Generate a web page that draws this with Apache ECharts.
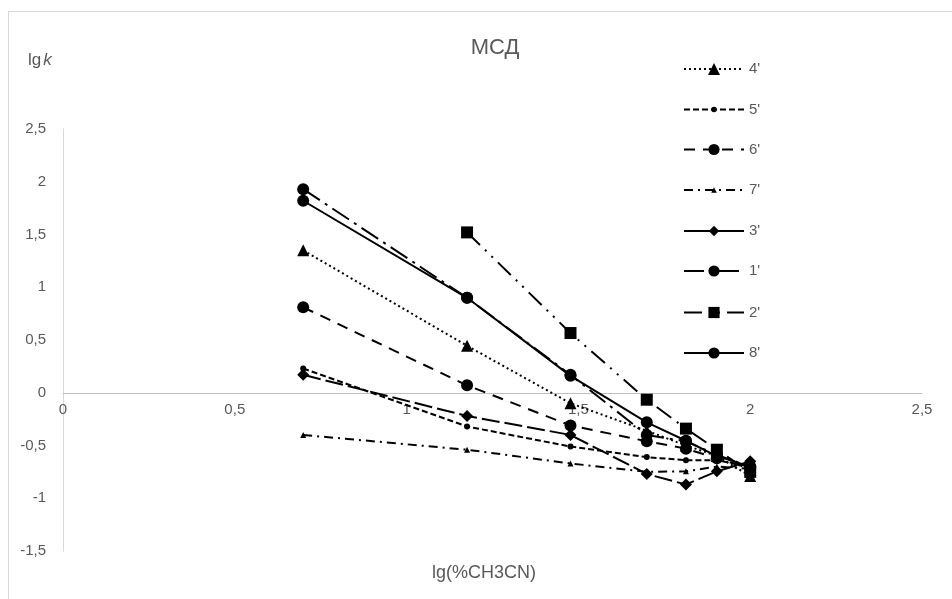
<!DOCTYPE html>
<html>
<head>
<meta charset="utf-8">
<script src="https://cdn.jsdelivr.net/npm/echarts@6/dist/echarts.min.js"></script>
<style>
html,body{margin:0;padding:0;background:#fff;}
#chart{width:952px;height:599px;}
</style>
</head>
<body>
<div id="chart"></div>
<script>
// lg(%CH3CN) values
const xValues = [0.699, 1.176, 1.477, 1.699, 1.813, 1.903, 2.0];
const seriesNames = ["4'", "5'", "6'", "7'", "3'", "1'", "2'", "8'"];
const s4 = [1.35, 0.445, -0.10, -0.36, -0.50, -0.60, -0.79];
const s5 = [0.23, -0.32, -0.51, -0.61, -0.64, -0.64, -0.70];
const s6 = [0.81, 0.07, -0.31, -0.46, -0.53, -0.62, -0.72];
const s7 = [-0.40, -0.54, -0.67, -0.75, -0.745, -0.70, -0.72];
const s3 = [0.17, -0.22, -0.40, -0.77, -0.87, -0.745, -0.65];
const s1 = [1.93, 0.90, 0.17, -0.40, -0.46, -0.59, -0.70];
const s2 = [null, 1.52, 0.566, -0.066, -0.34, -0.54, -0.75];
const s8 = [1.82, 0.90, 0.16, -0.28, -0.455, -0.60, -0.70];
const xTickLabels = ['0', '0,5', '1', '1,5', '2', '2,5'];
const yTickLabels = ['-1,5', '-1', '-0,5', '0', '0,5', '1', '1,5', '2', '2,5'];

const values = [s4, s5, s6, s7, s3, s1, s2, s8];
const styles = [
  {symbol: 'triangle', size: 12, legendH: 15, dash: [2, 3]},
  {symbol: 'circle', size: 6, legendH: 7, dash: [6, 3]},
  {symbol: 'circle', size: 12, legendH: 14, dash: [11, 8]},
  {symbol: 'triangle', size: 6, legendH: 7, dash: [9, 5, 2, 5]},
  {symbol: 'diamond', size: 12, legendH: 13, dash: [18, 5]},
  {symbol: 'circle', size: 12, legendH: 14, dash: [20, 6, 3, 6]},
  {symbol: 'rect', size: 12, legendH: 14, dash: [18, 7, 2, 7, 2, 7]},
  {symbol: 'circle', size: 12, legendH: 14, dash: 'solid'}
];
const legendCenters = [69, 109.5, 149.5, 190, 231, 271, 312.5, 353];

function pairs(arr) {
  const out = [];
  arr.forEach((v, i) => { if (v !== null) out.push([xValues[i], v]); });
  return out;
}

const series = seriesNames.map((name, i) => ({
  name: name,
  type: 'line',
  data: pairs(values[i]),
  symbol: styles[i].symbol,
  symbolSize: styles[i].size,
  showAllSymbol: true,
  itemStyle: {color: '#000'},
  lineStyle: {color: '#000', width: 2, type: styles[i].dash},
  emphasis: {disabled: true},
  animation: false
}));

const fontFam = "'Liberation Sans', Arial, sans-serif";
const TEXT_LH = 16;
const legends = seriesNames.map((name, i) => {
  const h = styles[i].legendH;
  const boxH = Math.max(h, TEXT_LH);
  return {
    orient: 'vertical',
    left: 683,
    top: legendCenters[i] - boxH / 2,
    padding: 0,
    itemWidth: 60, itemHeight: h,
    data: [name === "3'" ? {name: name, lineStyle: {type: 'solid'}} : {name: name}],
    textStyle: {color: '#595959', fontSize: 15, lineHeight: TEXT_LH, fontFamily: fontFam},
    selectedMode: false
  };
});

const chart = echarts.init(document.getElementById('chart'), null, {renderer: 'canvas'});
const gridTop = 129, gridBottom = 48, chartH = 599;
const plotH = chartH - gridTop - gridBottom;
const zeroOffset = -(plotH * 1.5 / 4);
chart.setOption({
  animation: false,
  backgroundColor: '#fff',
  title: {
    text: 'МСД',
    left: 490, top: 32,
    textAlign: 'center',
    textStyle: {color: '#595959', fontSize: 22, fontWeight: 'normal', fontFamily: fontFam}
  },
  legend: legends,
  grid: {left: 63, right: 30, top: gridTop, bottom: gridBottom, containLabel: false},
  xAxis: {
    type: 'value',
    min: 0, max: 2.5, interval: 0.5,
    offset: zeroOffset,
    axisLine: {show: true, onZero: false, lineStyle: {color: '#bfbfbf', width: 1}},
    axisTick: {show: false},
    splitLine: {show: false},
    axisLabel: {
      color: '#595959', fontSize: 15, fontFamily: fontFam, margin: 10,
      formatter: (v) => xTickLabels[Math.round(v / 0.5)]
    }
  },
  yAxis: {
    type: 'value',
    min: -1.5, max: 2.5, interval: 0.5,
    axisLine: {show: true, onZero: false, lineStyle: {color: '#d9d9d9', width: 1}},
    axisTick: {show: false},
    splitLine: {show: false},
    axisLabel: {
      color: '#595959', fontSize: 15, fontFamily: fontFam, margin: 17,
      formatter: (v) => yTickLabels[Math.round((v + 1.5) / 0.5)]
    }
  },
  graphic: [
    {type: 'rect', shape: {x: 8.5, y: 11.5, width: 1200, height: 1200}, style: {fill: 'none', stroke: '#d9d9d9', lineWidth: 1}, silent: true},
    {type: 'text', left: 28, top: 52, style: {
      text: '{a|lg}{b|k}',
      rich: {
        a: {fontSize: 17, fill: '#595959', fontFamily: fontFam},
        b: {fontSize: 17, fill: '#595959', fontFamily: fontFam, fontStyle: 'italic', padding: [0, 0, 0, 2]}
      }
    }},
    {type: 'text', x: 484, y: 573, style: {
      text: 'lg(%CH3CN)', fontSize: 18, fill: '#595959', fontFamily: fontFam,
      align: 'center', verticalAlign: 'middle'
    }}
  ],
  series: series
});
</script>
</body>
</html>
